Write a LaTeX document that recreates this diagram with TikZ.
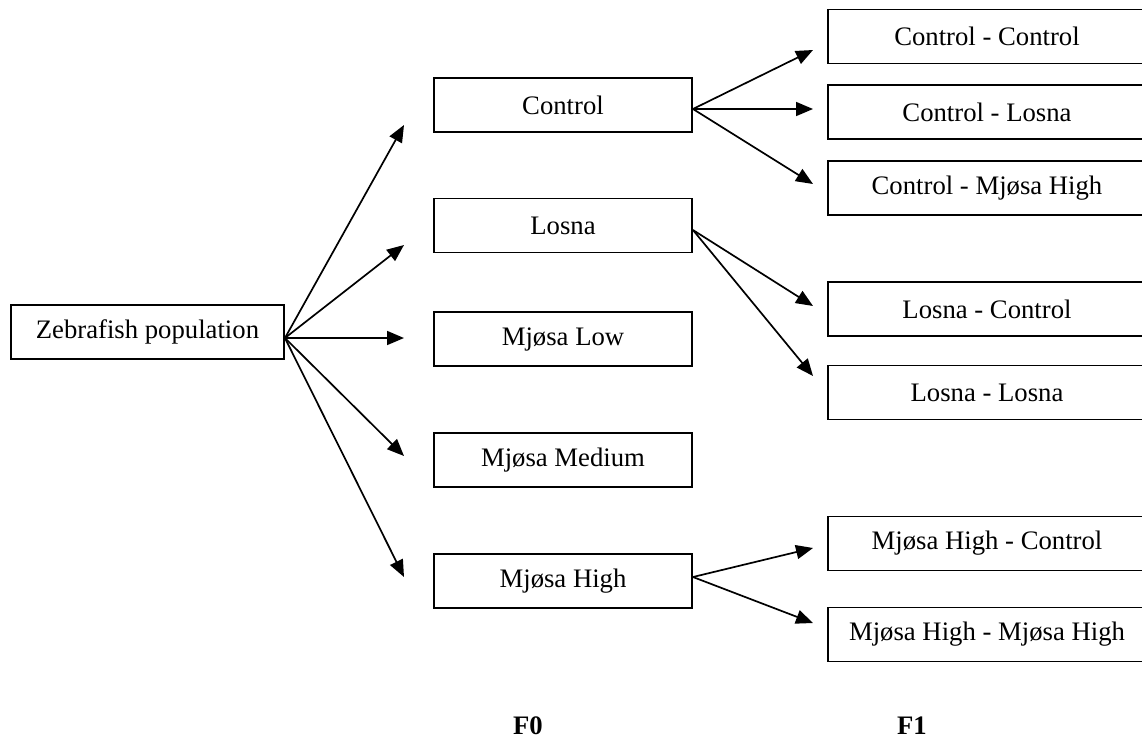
\documentclass[tikz,border=0pt]{standalone}
\usepackage{fontspec}
\setmainfont{Liberation Serif}
\usetikzlibrary{arrows.meta}
\newcommand{\boxfont}{\fontsize{26.7}{32}\selectfont}
\tikzset{
  box/.style={draw, line width=1.9pt, minimum height=54pt, inner sep=0pt, font=\boxfont},
  midbox/.style={box, minimum width=258pt},
  endbox/.style={box, minimum width=318pt},
  link/.style={line width=1.7pt, -{Triangle[length=17pt,width=14pt]}},
  genlabel/.style={font=\boxfont\bfseries, inner sep=0pt}
}
\begin{document}
\begin{tikzpicture}[x=1pt, y=-1pt]
  \clip (0,0) rectangle (1142,753);
  \fill[white] (0,0) rectangle (1142,753);

  % parent population
  \node[box, minimum width=273pt] (zeb) at (147.5,332) {Zebrafish population};

  % F0 groups
  \node[midbox] (ctrl) at (563,105)   {Control};
  \node[midbox] (los)  at (563,225.5) {Losna};
  \node[midbox] (mlow) at (563,339)   {Mjøsa Low};
  \node[midbox] (mmed) at (563,460)   {Mjøsa Medium};
  \node[midbox] (mhi)  at (563,581)   {Mjøsa High};

  % F1 crosses
  \node[endbox] (cc)   at (987,36.5)  {Control - Control};
  \node[endbox] (cl)   at (987,112)   {Control - Losna};
  \node[endbox] (cmh)  at (987,188)   {Control - Mjøsa High};
  \node[endbox] (lc)   at (987,309)   {Losna - Control};
  \node[endbox] (ll)   at (987,392.5) {Losna - Losna};
  \node[endbox] (mhc)  at (987,543.5) {Mjøsa High - Control};
  \node[endbox] (mhmh) at (987,634.5) {Mjøsa High - Mjøsa High};

  % arrow tips (arrows stop short of the boxes)
  \coordinate (t1) at (404,125);
  \coordinate (t2) at (404,245);
  \coordinate (t3) at (404,338);
  \coordinate (t4) at (404,456);
  \coordinate (t5) at (404,577);
  \coordinate (c1) at (813,50);
  \coordinate (c2) at (813,109);
  \coordinate (c3) at (813,184);
  \coordinate (l1) at (813,306);
  \coordinate (l2) at (813,376);
  \coordinate (m1) at (813,548);
  \coordinate (m2) at (813,623);

  % connectors
  \foreach \t in {t1,t2,t3,t4,t5}
    \draw[link] ([yshift=-6pt]zeb.east) -- (\t);
  \foreach \t in {c1,c2,c3}
    \draw[link] ([yshift=-4pt]ctrl.east) -- (\t);
  \foreach \t in {l1,l2}
    \draw[link] ([yshift=-4.5pt]los.east) -- (\t);
  \foreach \t in {m1,m2}
    \draw[link] ([yshift=4pt]mhi.east) -- (\t);

  % generation labels
  \node[genlabel] (f0) at (528,726) {F0};
  \node[genlabel] (f1) at (912,726) {F1};
\end{tikzpicture}
\end{document}
